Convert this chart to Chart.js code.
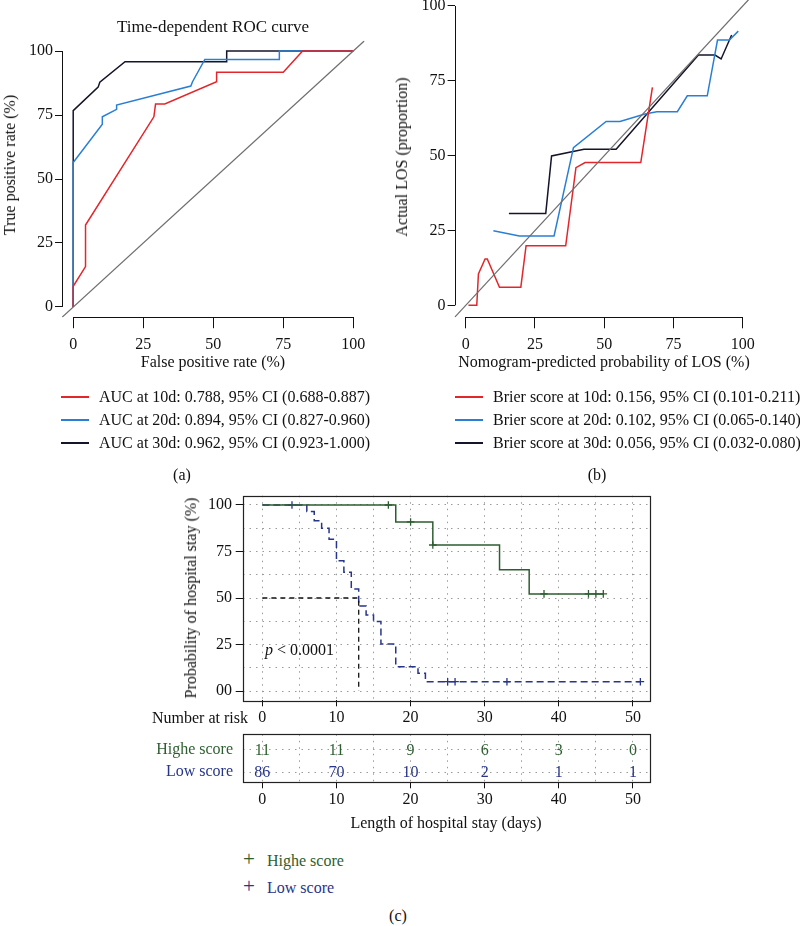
<!DOCTYPE html>
<html>
<head>
<meta charset="utf-8">
<title>ROC, calibration and Kaplan-Meier</title>
<script src="https://cdn.jsdelivr.net/npm/chart.js@4.4.1/dist/chart.umd.min.js"></script>
<style>
  html, body { margin:0; padding:0; background:#fff; }
  body { width:800px; height:926px; position:relative; overflow:hidden;
         font-family:"Liberation Serif","Times New Roman",serif; color:#111; }
  canvas { position:absolute; }
  .t { position:absolute; white-space:nowrap; font-size:16px; line-height:20px; height:20px; margin-top:-10px; }
  .c { transform:translateX(-50%); }
  .r { margin-top:0; transform:translate(-50%,-50%) rotate(-90deg); }
  .ll { display:inline-block; width:28px; height:0; border-top:2px solid; vertical-align:middle; margin-right:10px; position:relative; top:-1px; }
</style>
</head>
<body>
<canvas id="cA" width="400" height="380" style="left:0;top:0"></canvas>
<canvas id="cB" width="400" height="410" style="left:400px;top:-30px"></canvas>
<canvas id="cC" width="540" height="260" style="left:140px;top:470px"></canvas>
<canvas id="cR" width="540" height="100" style="left:140px;top:715px"></canvas>

<!-- panel (a) texts -->
<div class="t c" style="left:213px;top:27px;font-size:17px">Time-dependent ROC curve</div>
<div class="t r" style="left:10px;top:165px">True positive rate (%)</div>
<div class="t c" style="left:213px;top:362px">False positive rate (%)</div>
<div class="t" style="left:61px;top:397px"><span class="ll" style="border-color:#e3262b"></span>AUC at 10d: 0.788, 95% CI (0.688-0.887)</div>
<div class="t" style="left:61px;top:420px"><span class="ll" style="border-color:#2a7fd4"></span>AUC at 20d: 0.894, 95% CI (0.827-0.960)</div>
<div class="t" style="left:61px;top:443px"><span class="ll" style="border-color:#14142a"></span>AUC at 30d: 0.962, 95% CI (0.923-1.000)</div>
<div class="t c" style="left:182px;top:475px">(a)</div>

<!-- panel (b) texts -->
<div class="t r" style="left:402px;top:157px">Actual LOS (proportion)</div>
<div class="t c" style="left:604px;top:362px">Nomogram-predicted probability of LOS (%)</div>
<div class="t" style="left:455px;top:397px"><span class="ll" style="border-color:#e3262b"></span>Brier score at 10d: 0.156, 95% CI (0.101-0.211)</div>
<div class="t" style="left:455px;top:420px"><span class="ll" style="border-color:#2a7fd4"></span>Brier score at 20d: 0.102, 95% CI (0.065-0.140)</div>
<div class="t" style="left:455px;top:443px"><span class="ll" style="border-color:#14142a"></span>Brier score at 30d: 0.056, 95% CI (0.032-0.080)</div>
<div class="t c" style="left:597px;top:475px">(b)</div>

<!-- panel (c) texts -->
<div class="t r" style="left:191px;top:598px">Probability of hospital stay (%)</div>
<div class="t" style="left:265px;top:650px"><i>p</i> &lt; 0.0001</div>
<div class="t" style="left:152px;top:718px">Number at risk</div>
<div class="t c" style="left:446px;top:823px">Length of hospital stay (days)</div>
<div class="t" style="left:243px;top:859px;color:#2e5e30"><span style="font-size:21px;display:inline-block;width:24px">+</span>Highe score</div>
<div class="t" style="left:243px;top:886px;color:#27358a"><span style="font-size:21px;display:inline-block;width:24px">+</span>Low score</div>
<div class="t c" style="left:398px;top:916px">(c)</div>

<script>
// ================= DATA =================
// Panel (a): time-dependent ROC curves (false positive rate %, true positive rate %)
const axisTicks100 = [0, 25, 50, 75, 100];
const roc10Fpr = [0, 0, 4.4, 4.4, 28.8, 29.4, 32.7, 51.2, 51.2, 75.0, 81.9, 100];
const roc10Tpr = [0, 8.1, 15.8, 32.0, 74.3, 79.3, 79.3, 88.0, 91.7, 91.7, 100, 100];
const roc20Fpr = [0, 0, 10.4, 10.4, 15.5, 15.5, 42.0, 42.6, 47.0, 73.6, 73.6, 100];
const roc20Tpr = [0, 56.4, 71.4, 74.3, 77.2, 78.9, 86.3, 88.0, 96.7, 96.7, 100, 100];
const roc30Fpr = [0, 0, 8.9, 9.5, 18.5, 54.8, 54.8, 100];
const roc30Tpr = [0, 76.7, 85.9, 87.8, 95.8, 95.8, 100, 100];
const diagonal = [-4, 104];

// Panel (b): calibration curves (predicted %, observed %)
const cal10Pred = [1, 4, 4.6, 7, 7.8, 12.2, 19.9, 21.8, 36.1, 39.8, 43.1, 63.2, 67.4];
const cal10Obs  = [0, 0, 10.5, 15.5, 15.5, 6.0, 6.0, 19.9, 19.9, 46.0, 47.7, 47.7, 72.8];
const cal20Pred = [10, 19.4, 31.9, 38.9, 50.7, 55.7, 64.7, 69, 76.4, 80, 87.2, 90.9, 95.2, 98.4];
const cal20Obs  = [24.9, 23.2, 23.2, 52.7, 61.4, 61.4, 63.9, 64.7, 64.7, 70, 70, 88.6, 88.6, 91.6];
const cal30Pred = [15.6, 28.9, 31, 42.7, 54.3, 84, 90, 92.2, 96];
const cal30Obs  = [30.7, 30.7, 49.9, 52.1, 52.1, 83.6, 83.6, 82.3, 90.3];

// Panel (c): Kaplan-Meier (days, survival %)
const highTime = [0, 18, 23, 32, 36, 46];
const highSurv = [100, 90.9, 78.5, 65.2, 52.2, 52.2];
const highCensor = [17, 20, 23, 38, 44, 45, 46];
const lowTime = [0, 6, 7, 8, 9, 10, 11, 12, 13, 14, 15, 16, 18, 21, 22, 51];
const lowSurv = [100, 96.5, 91.5, 87.5, 81.6, 70, 63.8, 54.8, 45.7, 40.9, 37.3, 25.3, 13.1, 9.5, 5.0, 5.0];
const lowCensor = [4, 25, 26, 33, 51];
const medianTime = 13;
const kmXTicks = [0, 10, 20, 30, 40, 50];
const kmYTicks = [0, 25, 50, 75, 100];

// Number at risk table
const riskGroups = ['Highe score', 'Low score'];
const riskTimes = [0, 10, 20, 30, 40, 50];
const riskHigh = [11, 11, 9, 6, 3, 0];
const riskLow = [86, 70, 10, 2, 1, 1];

// ================= STYLE =================
const RED = '#e3262b', BLUE = '#2a7fd4', BLACK = '#14142a', DIAG = '#6e6e6e';
const GREEN = '#2e5e30', NAVY = '#27358a';
const FONT = '"Liberation Serif","Times New Roman",serif';
Chart.defaults.font.family = FONT;
Chart.defaults.font.size = 16;
Chart.defaults.color = '#111';
Chart.defaults.animation = false;

const pts = (xs, ys) => xs.map((x, i) => ({x: x, y: ys[i]}));
const line = (data, color, extra) => Object.assign({
  data: data, showLine: true, borderColor: color, backgroundColor: color,
  borderWidth: 1.5, pointRadius: 0, tension: 0, fill: false
}, extra || {});

// R-style axis lines (from first to last tick only)
const rAxis = {
  id: 'rAxis',
  afterDraw(chart, args, o) {
    const {ctx, chartArea: a, scales: {x, y}} = chart;
    ctx.save();
    ctx.strokeStyle = '#111'; ctx.lineWidth = 1;
    ctx.beginPath();
    const xl = Math.round(a.left) + 0.5, yb = Math.round(a.bottom) + 0.5;
    ctx.moveTo(xl, y.getPixelForValue(o.lo)); ctx.lineTo(xl, y.getPixelForValue(o.hi));
    ctx.moveTo(x.getPixelForValue(o.lo), yb); ctx.lineTo(x.getPixelForValue(o.hi), yb);
    ctx.stroke(); ctx.restore();
  }
};
// Box around chart area
const boxPlugin = {
  id: 'box',
  afterDraw(chart) {
    const {ctx, chartArea: a} = chart;
    ctx.save(); ctx.strokeStyle = '#222'; ctx.lineWidth = 1.2;
    ctx.strokeRect(Math.round(a.left) + 0.5, Math.round(a.top) + 0.5,
                   Math.round(a.right - a.left), Math.round(a.bottom - a.top));
    ctx.restore();
  }
};
// numbers at risk drawn at their dataset points
const riskText = {
  id: 'riskText',
  afterDatasetsDraw(chart) {
    const ctx = chart.ctx;
    ctx.save();
    ctx.font = '16px ' + FONT; ctx.textAlign = 'center'; ctx.textBaseline = 'middle';
    chart.data.datasets.forEach((ds, di) => {
      const meta = chart.getDatasetMeta(di);
      ctx.fillStyle = ds.textColor;
      meta.data.forEach((el, i) => ctx.fillText(String(ds.labels[i]), el.x, el.y + 1));
    });
    ctx.restore();
  }
};

function rScales(yWidth, tickList) {
  return {
    x: { type: 'linear', min: -4, max: 104,
      afterBuildTicks: s => { s.ticks = tickList.map(v => ({value: v})); },
      afterFit: s => { s.height = 50; },
      grid: { drawOnChartArea: false, drawTicks: true, tickLength: 11, tickColor: '#111', tickWidth: 1 },
      border: { display: false },
      ticks: { padding: 7.2, maxRotation: 0, autoSkip: false, color: '#111' } },
    y: { type: 'linear', min: -4, max: 104,
      afterBuildTicks: s => { s.ticks = tickList.map(v => ({value: v})); },
      afterFit: s => { s.width = yWidth; },
      grid: { drawOnChartArea: false, drawTicks: true, tickLength: 7, tickColor: '#111', tickWidth: 1 },
      border: { display: false },
      ticks: { padding: 2, autoSkip: false, color: '#111' } }
  };
}

// ---------- Panel (a) ----------
new Chart(document.getElementById('cA'), {
  type: 'scatter',
  data: { datasets: [
    line(pts(diagonal, diagonal), DIAG, {borderWidth: 1.2}),
    line(pts(roc10Fpr, roc10Tpr), RED),
    line(pts(roc20Fpr, roc20Tpr), BLUE),
    line(pts(roc30Fpr, roc30Tpr), BLACK)
  ]},
  options: {
    responsive: false,
    layout: { padding: {left: 10, right: 35.5, top: 40.8, bottom: 12.8} },
    plugins: { legend: {display: false}, tooltip: {enabled: false}, rAxis: {lo: 0, hi: 100} },
    scales: rScales(52, axisTicks100)
  },
  plugins: [rAxis]
});

// ---------- Panel (b) ----------
new Chart(document.getElementById('cB'), {
  type: 'scatter',
  data: { datasets: [
    line(pts(diagonal, diagonal), DIAG, {borderWidth: 1.2}),
    line(pts(cal10Pred, cal10Obs), RED),
    line(pts(cal20Pred, cal20Obs), BLUE),
    line(pts(cal30Pred, cal30Obs), BLACK)
  ]},
  options: {
    responsive: false,
    layout: { padding: {left: 10, right: 46.2, top: 24, bottom: 12.7} },
    plugins: { legend: {display: false}, tooltip: {enabled: false}, rAxis: {lo: 0, hi: 100} },
    scales: rScales(44.6, axisTicks100)
  },
  plugins: [rAxis]
});

// ---------- Panel (c): Kaplan-Meier ----------
const survAt = (times, surv, t) => { let s = surv[0]; times.forEach((tt, i) => { if (tt <= t) s = surv[i]; }); return s; };
const gridCol = '#9a9a9a';
const majorX = v => kmXTicks.includes(v);
const majorY = v => kmYTicks.includes(v);

new Chart(document.getElementById('cC'), {
  type: 'scatter',
  data: { datasets: [
    line([{x: 0, y: 50}, {x: medianTime, y: 50}, {x: medianTime, y: 0}], '#111', {borderWidth: 1.3, borderDash: [5, 4]}),
    line(pts(highTime, highSurv), GREEN, {stepped: 'before'}),
    line(pts(lowTime, lowSurv), NAVY, {stepped: 'before', borderDash: [7, 4]}),
    { data: highCensor.map(t => ({x: t, y: survAt(highTime, highSurv, t)})), showLine: false,
      pointStyle: 'cross', pointRadius: 3.8, borderColor: GREEN, pointBorderWidth: 1.3, backgroundColor: GREEN },
    { data: lowCensor.map(t => ({x: t, y: survAt(lowTime, lowSurv, t)})), showLine: false,
      pointStyle: 'cross', pointRadius: 3.8, borderColor: NAVY, pointBorderWidth: 1.3, backgroundColor: NAVY }
  ]},
  options: {
    responsive: false,
    layout: { padding: {left: 20, right: 30, top: 25.7, bottom: 4.7} },
    plugins: { legend: {display: false}, tooltip: {enabled: false} },
    scales: {
      x: { type: 'linear', min: -2.65, max: 52.3,
        afterBuildTicks: s => { const t = []; for (let v = 0; v <= 50; v += 5) t.push({value: v}); s.ticks = t; },
        afterFit: s => { s.height = 25; },
        grid: { drawOnChartArea: true, color: gridCol, lineWidth: 1, drawTicks: true, tickLength: 6,
                tickWidth: 1, tickBorderDash: [],
                tickColor: c => (c.tick && majorX(c.tick.value)) ? '#111' : 'rgba(0,0,0,0)' },
        border: { display: false, dash: [1.5, 5] },
        ticks: { padding: 2.1, maxRotation: 0, autoSkip: false, color: '#111',
                 callback: v => majorX(v) ? String(v) : '' } },
      y: { type: 'linear', min: -5, max: 105,
        afterBuildTicks: s => { const t = []; for (let v = 0; v <= 100; v += 12.5) t.push({value: v}); s.ticks = t; },
        afterFit: s => { s.width = 82.7; },
        grid: { drawOnChartArea: true, color: gridCol, lineWidth: 1, drawTicks: true, tickLength: 7,
                tickWidth: 1, tickBorderDash: [],
                tickColor: c => (c.tick && majorY(c.tick.value)) ? '#111' : 'rgba(0,0,0,0)' },
        border: { display: false, dash: [1.5, 5] },
        ticks: { padding: 3.7, autoSkip: false, color: '#111',
                 callback: v => majorY(v) ? (v === 0 ? '00' : String(v)) : '' } }
    }
  },
  plugins: [boxPlugin]
});

// ---------- Number at risk table ----------
new Chart(document.getElementById('cR'), {
  type: 'scatter',
  data: { datasets: [
    { data: riskTimes.map(t => ({x: t, y: 0})), labels: riskHigh, textColor: GREEN, pointRadius: 0, showLine: false },
    { data: riskTimes.map(t => ({x: t, y: 1})), labels: riskLow, textColor: NAVY, pointRadius: 0, showLine: false }
  ]},
  options: {
    responsive: false,
    layout: { padding: {left: 0, right: 30, top: 17.3, bottom: 2.7} },
    plugins: { legend: {display: false}, tooltip: {enabled: false} },
    scales: {
      x: { type: 'linear', min: -2.65, max: 52.3,
        afterBuildTicks: s => { const t = []; for (let v = 0; v <= 50; v += 5) t.push({value: v}); s.ticks = t; },
        afterFit: s => { s.height = 30; },
        grid: { drawOnChartArea: true, color: gridCol, lineWidth: 1, drawTicks: true, tickLength: 6,
                tickWidth: 1, tickBorderDash: [],
                tickColor: c => (c.tick && majorX(c.tick.value)) ? '#111' : 'rgba(0,0,0,0)' },
        border: { display: false, dash: [1.5, 5] },
        ticks: { padding: 2.1, maxRotation: 0, autoSkip: false, color: '#111',
                 callback: v => majorX(v) ? String(v) : '' } },
      y: { type: 'linear', min: -0.684, max: 1.453, reverse: true,
        afterBuildTicks: s => { s.ticks = riskGroups.map((g, i) => ({value: i})); },
        afterFit: s => { s.width = 102.7; },
        grid: { drawOnChartArea: true, color: gridCol, lineWidth: 1, drawTicks: false },
        border: { display: false, dash: [1.5, 5] },
        ticks: { padding: 9.7, autoSkip: false,
                 color: c => (c.tick && c.tick.value === 0) ? GREEN : NAVY,
                 callback: v => riskGroups[v] } }
    }
  },
  plugins: [boxPlugin, riskText]
});
</script>
</body>
</html>
